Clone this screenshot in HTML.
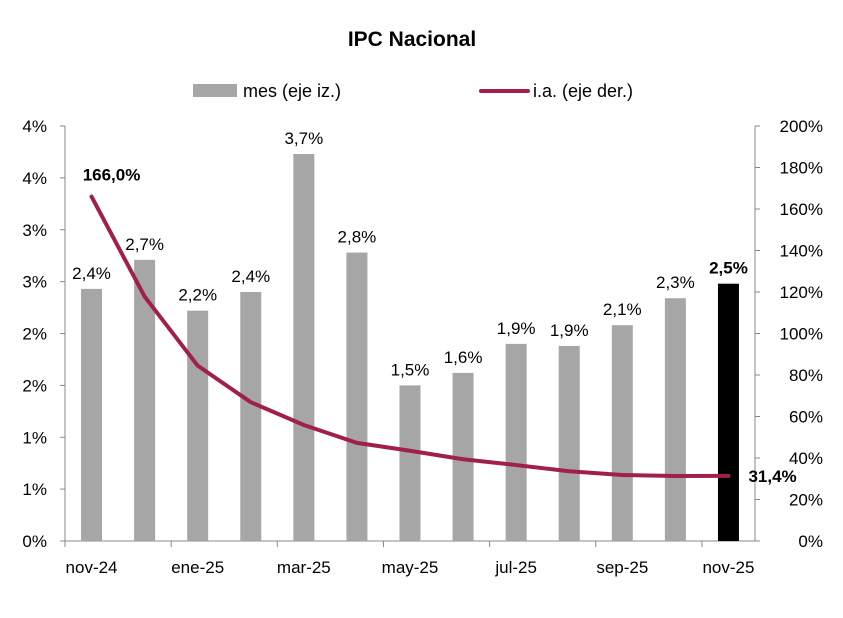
<!DOCTYPE html>
<html><head><meta charset="utf-8"><style>
body{margin:0;background:#fff;}
svg text{font-family:"Liberation Sans",sans-serif;fill:#000;}
</style></head><body>
<svg id="c" width="843" height="613" xmlns="http://www.w3.org/2000/svg">
<text x="412" y="46" text-anchor="middle" font-size="21" font-weight="bold">IPC Nacional</text>
<g>
<rect x="193" y="84" width="44" height="13" fill="#a6a6a6"/>
<text x="243" y="97" font-size="18">mes (eje iz.)</text>
<line x1="481" y1="91" x2="528" y2="91" stroke="#a0204a" stroke-width="4" stroke-linecap="round"/>
<text x="533" y="97" font-size="18">i.a. (eje der.)</text>
</g>
<g id="axes"></g><g id="bars"></g><g id="line"></g><g id="labels"></g>
</svg>
<script>
const categories=["nov-24","dic-24","ene-25","feb-25","mar-25","abr-25","may-25","jun-25","jul-25","ago-25","sep-25","oct-25","nov-25"];
const monthly=[2.4,2.7,2.2,2.4,3.7,2.8,1.5,1.6,1.9,1.9,2.1,2.3,2.5];
const monthlyBarValues=[2.43,2.71,2.22,2.40,3.73,2.78,1.50,1.62,1.90,1.88,2.08,2.34,2.48];
const annual=[166.0,117.8,84.5,66.9,55.9,47.3,43.5,39.4,36.6,33.6,31.8,31.3,31.4];
const leftTicks=[0,0.5,1,1.5,2,2.5,3,3.5,4];
const leftTickLabels=["0%","1%","1%","2%","2%","3%","3%","4%","4%"];
const rightTicks=[0,20,40,60,80,100,120,140,160,180,200];
const xLabelIdx=[0,2,4,6,8,10,12];
const NS="http://www.w3.org/2000/svg";
const X0=65,X1=755,Y0=541,Y1=126;
const bw=(X1-X0)/categories.length;
const xC=i=>X0+bw*(i+0.5);
const yL=v=>Y0-(v/4)*(Y0-Y1);
const yR=v=>Y0-(v/200)*(Y0-Y1);
function mk(tag,attrs,parent,txt){const e=document.createElementNS(NS,tag);for(const k in attrs)e.setAttribute(k,attrs[k]);if(txt!==undefined)e.textContent=txt;document.getElementById(parent).appendChild(e);return e;}
const fmt=v=>v.toFixed(1).replace('.',',')+'%';
let e=mk('line',{x1:X0,y1:Y1,x2:X0,y2:Y0,stroke:'#888'},'axes');

e=mk('line',{x1:X1,y1:Y1,x2:X1,y2:Y0,stroke:'#888'},'axes');

e=mk('line',{x1:X0,y1:Y0,x2:X1,y2:Y0,stroke:'#888'},'axes');

leftTicks.forEach((t,i)=>{const y=yL(t);
 mk('line',{x1:X0-5,y1:y,x2:X0,y2:y,stroke:'#888'},'axes');
 e=mk('text',{x:47,y:y+6,'font-size':17,'text-anchor':'end'},'axes',leftTickLabels[i]);
 });
rightTicks.forEach(t=>{const y=yR(t);
 mk('line',{x1:X1,y1:y,x2:X1+5,y2:y,stroke:'#888'},'axes');
 e=mk('text',{x:823,y:y+6,'font-size':17,'text-anchor':'end'},'axes',t+'%');
 });
for(let i=0;i<=categories.length;i+=2){
 mk('line',{x1:X0+bw*i,y1:Y0,x2:X0+bw*i,y2:Y0+6,stroke:'#888'},'axes');}
xLabelIdx.forEach(i=>{e=mk('text',{x:xC(i),y:573,'font-size':17,'text-anchor':'middle'},'axes',categories[i]);
 });
monthlyBarValues.forEach((v,i)=>{const last=i===categories.length-1;
 e=mk('rect',{x:xC(i)-10.5,y:yL(v),width:21,height:Y0-yL(v),fill:last?'#000':'#a6a6a6'},'bars');
 
 e=mk('text',{x:xC(i),y:yL(v)-10,'font-size':17,'text-anchor':'middle','font-weight':last?'bold':'normal'},'labels',fmt(monthly[i]));
 });
e=mk('polyline',{points:annual.map((v,i)=>xC(i)+','+yR(v)).join(' '),fill:'none',stroke:'#a0204a','stroke-width':4,'stroke-linejoin':'round','stroke-linecap':'round'},'line');

e=mk('text',{x:xC(0)+20,y:yR(annual[0])-16,'font-size':17,'font-weight':'bold','text-anchor':'middle'},'labels',fmt(annual[0]));

const n=annual.length-1;
e=mk('text',{x:xC(n)+20,y:yR(annual[n])+6,'font-size':17,'font-weight':'bold'},'labels',fmt(annual[n]));

</script>
</body></html>
